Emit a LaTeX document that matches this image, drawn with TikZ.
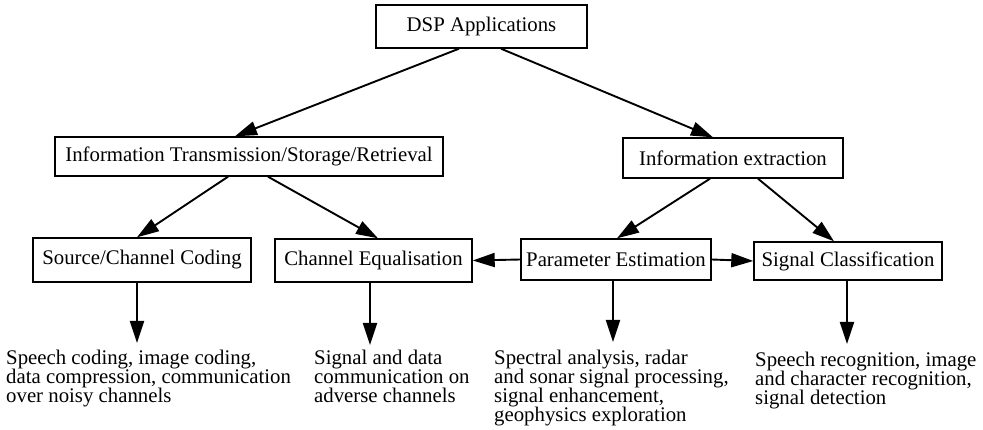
\documentclass[tikz,border=0pt]{standalone}
\usepackage{fontspec}
\setmainfont{Liberation Serif}
\usepackage{tikz}
\usetikzlibrary{arrows.meta,calc}
\tikzstyle{blk}=[draw, line width=1.4pt, inner sep=0pt,% plain box round each task
font=\fontsize{20.8}{19}\selectfont]
\tikzstyle{txt}=[anchor=north west, align=left, inner sep=0pt,% text under a box
font=\fontsize{20.8}{19}\selectfont]
\tikzstyle{dgraph}=[-{Triangle[length=22pt,width=14pt]}, line width=1.9pt]

\begin{document}
\begin{tikzpicture}[x=1pt,y=-1pt]
\useasboundingbox (0,0) rectangle (983,430);

\node[blk, minimum width=211pt, minimum height=43pt] (dsp) at (481.5,26.5) {DSP Applications};
\node[blk, minimum width=388pt, minimum height=39pt] (itr) at (249,156.5) {Information Transmission/Storage/Retrieval};
\node[blk, minimum width=220pt, minimum height=40pt] (iex) at (733,158) {Information extraction};

\node[blk, minimum width=218pt, minimum height=44pt] (scc) at (142,260) {Source/Channel Coding};
\node[blk, minimum width=197pt, minimum height=43pt] (ceq) at (373.5,260.5) {Channel Equalisation};
\node[blk, minimum width=190pt, minimum height=41pt] (pest) at (616,259.5) {Parameter Estimation};
\node[blk, minimum width=188pt, minimum height=38pt] (scl) at (848,261) {Signal Classification};

\node[txt] (t1) at (6,350) {Speech coding, image coding,\\data compression, communication\\over noisy channels};
\node[txt] (t2) at (314,350) {Signal and data\\communication on\\adverse channels};
\node[txt] (t3) at (494,350) {Spectral analysis, radar\\and sonar signal processing,\\signal enhancement,\\geophysics exploration};
\node[txt] (t4) at (755,352) {Speech recognition, image\\and character recognition,\\signal detection};

\draw [dgraph] ([xshift=-22.5pt]dsp.south) -- ([xshift=-14pt]itr.north);
\draw [dgraph] ([xshift=19.5pt]dsp.south) -- ([xshift=-20pt]iex.north);
\draw [dgraph] ([xshift=-21pt]itr.south) -- ([xshift=-5pt]scc.north);
\draw [dgraph] ([xshift=19pt]itr.south) -- ([xshift=4.5pt]ceq.north);
\draw [dgraph] ([xshift=-23pt]iex.south) -- ([xshift=1pt]pest.north);
\draw [dgraph] ([xshift=25pt]iex.south) -- ([xshift=-14pt]scl.north);
\draw [dgraph] (pest.west) -- (ceq.east);
\draw [dgraph] (pest.east) -- (scl.west);

\coordinate (d1) at (137,343);
\coordinate (d2) at (370,345);
\coordinate (d3) at (613,342);
\coordinate (d4) at (847,344);
\draw [dgraph] (d1 |- scc.south) -- (d1);
\draw [dgraph] (d2 |- ceq.south) -- (d2);
\draw [dgraph] (d3 |- pest.south) -- (d3);
\draw [dgraph] (d4 |- scl.south) -- (d4);

\end{tikzpicture}
\end{document}
